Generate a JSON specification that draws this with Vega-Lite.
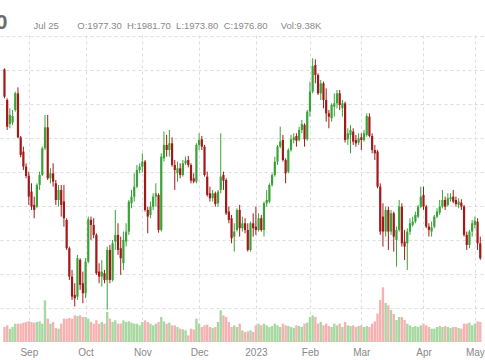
{
  "$schema": "https://vega.github.io/schema/vega-lite/v6.json",
  "width": 485,
  "height": 307,
  "autosize": {"type": "none"},
  "padding": {"left": 0, "top": 35, "right": 0, "bottom": 18},
  "background": "white",
  "config": {"view": {"stroke": null}},
  "data": {"values": [
    {"d":"2022-08-19","i":-9,"open":2001.0,"high":2002.4,"low":1958.4,"close":1960.8,"vol":180},
    {"d":"2022-08-22","i":-8,"open":1955.9,"high":1958.4,"low":1911.8,"close":1916.7,"vol":200},
    {"d":"2022-08-23","i":-7,"open":1920.6,"high":1943.7,"low":1914.3,"close":1933.9,"vol":160},
    {"d":"2022-08-24","i":-6,"open":1922.6,"high":1941.2,"low":1919.2,"close":1932.4,"vol":180},
    {"d":"2022-08-25","i":-5,"open":1941.2,"high":1968.2,"low":1938.8,"close":1965.7,"vol":220},
    {"d":"2022-08-26","i":-4,"open":1965.7,"high":1974.5,"low":1899.6,"close":1901.0,"vol":220},
    {"d":"2022-08-29","i":-3,"open":1901.0,"high":1903.0,"low":1871.6,"close":1875.1,"vol":220},
    {"d":"2022-08-30","i":-2,"open":1880.0,"high":1887.3,"low":1853.0,"close":1857.9,"vol":232},
    {"d":"2022-08-31","i":-1,"open":1857.9,"high":1862.8,"low":1840.8,"close":1844.2,"vol":240},
    {"d":"2022-09-01","i":0,"open":1844.2,"high":1850.6,"low":1801.6,"close":1813.8,"vol":248},
    {"d":"2022-09-02","i":1,"open":1821.2,"high":1833.4,"low":1794.2,"close":1799.1,"vol":240},
    {"d":"2022-09-06","i":2,"open":1801.6,"high":1813.8,"low":1782.0,"close":1794.2,"vol":232},
    {"d":"2022-09-07","i":3,"open":1799.1,"high":1833.4,"low":1796.7,"close":1831.0,"vol":240},
    {"d":"2022-09-08","i":4,"open":1831.0,"high":1850.6,"low":1823.6,"close":1845.7,"vol":248},
    {"d":"2022-09-09","i":5,"open":1845.7,"high":1887.3,"low":1844.2,"close":1884.9,"vol":220},
    {"d":"2022-09-12","i":6,"open":1884.9,"high":1933.9,"low":1882.4,"close":1915.7,"vol":500},
    {"d":"2022-09-13","i":7,"open":1915.7,"high":1933.9,"low":1838.3,"close":1840.8,"vol":280},
    {"d":"2022-09-14","i":8,"open":1840.8,"high":1855.5,"low":1833.4,"close":1848.1,"vol":220},
    {"d":"2022-09-15","i":9,"open":1848.1,"high":1862.8,"low":1828.5,"close":1835.9,"vol":240},
    {"d":"2022-09-16","i":10,"open":1833.4,"high":1838.3,"low":1801.6,"close":1808.9,"vol":168},
    {"d":"2022-09-19","i":11,"open":1808.9,"high":1831.0,"low":1799.1,"close":1823.6,"vol":160},
    {"d":"2022-09-20","i":12,"open":1823.6,"high":1831.0,"low":1784.4,"close":1801.6,"vol":220},
    {"d":"2022-09-21","i":13,"open":1806.5,"high":1831.0,"low":1769.7,"close":1782.0,"vol":280},
    {"d":"2022-09-22","i":14,"open":1779.5,"high":1782.0,"low":1735.4,"close":1737.9,"vol":280},
    {"d":"2022-09-23","i":15,"open":1737.9,"high":1740.3,"low":1691.3,"close":1696.2,"vol":288},
    {"d":"2022-09-26","i":16,"open":1696.2,"high":1706.0,"low":1661.9,"close":1666.8,"vol":280},
    {"d":"2022-09-27","i":17,"open":1669.3,"high":1686.4,"low":1652.1,"close":1664.4,"vol":320},
    {"d":"2022-09-28","i":18,"open":1666.8,"high":1728.1,"low":1661.9,"close":1723.2,"vol":312},
    {"d":"2022-09-29","i":19,"open":1720.7,"high":1723.2,"low":1676.6,"close":1684.0,"vol":320},
    {"d":"2022-09-30","i":20,"open":1686.4,"high":1703.6,"low":1657.0,"close":1671.7,"vol":300},
    {"d":"2022-10-03","i":21,"open":1671.7,"high":1723.2,"low":1664.4,"close":1718.3,"vol":300},
    {"d":"2022-10-04","i":22,"open":1718.3,"high":1784.4,"low":1715.8,"close":1780.5,"vol":280},
    {"d":"2022-10-05","i":23,"open":1779.5,"high":1784.4,"low":1750.1,"close":1772.2,"vol":240},
    {"d":"2022-10-06","i":24,"open":1772.2,"high":1782.0,"low":1752.6,"close":1757.5,"vol":220},
    {"d":"2022-10-07","i":25,"open":1757.5,"high":1759.9,"low":1698.7,"close":1701.1,"vol":260},
    {"d":"2022-10-10","i":26,"open":1703.6,"high":1715.8,"low":1686.4,"close":1696.2,"vol":220},
    {"d":"2022-10-11","i":27,"open":1696.2,"high":1720.7,"low":1681.5,"close":1703.6,"vol":240},
    {"d":"2022-10-12","i":28,"open":1701.1,"high":1706.0,"low":1686.4,"close":1691.3,"vol":220},
    {"d":"2022-10-13","i":29,"open":1691.3,"high":1740.3,"low":1647.2,"close":1735.4,"vol":360},
    {"d":"2022-10-14","i":30,"open":1735.4,"high":1742.8,"low":1686.4,"close":1691.3,"vol":280},
    {"d":"2022-10-17","i":31,"open":1691.3,"high":1750.1,"low":1688.9,"close":1745.2,"vol":240},
    {"d":"2022-10-18","i":32,"open":1747.7,"high":1794.2,"low":1735.4,"close":1757.5,"vol":260},
    {"d":"2022-10-19","i":33,"open":1757.5,"high":1774.6,"low":1728.1,"close":1735.4,"vol":220},
    {"d":"2022-10-20","i":34,"open":1737.9,"high":1755.0,"low":1698.7,"close":1723.2,"vol":220},
    {"d":"2022-10-21","i":35,"open":1715.8,"high":1762.4,"low":1706.0,"close":1750.1,"vol":260},
    {"d":"2022-10-24","i":36,"open":1747.7,"high":1774.6,"low":1740.3,"close":1762.4,"vol":240},
    {"d":"2022-10-25","i":37,"open":1762.4,"high":1808.9,"low":1757.5,"close":1806.5,"vol":248},
    {"d":"2022-10-26","i":38,"open":1804.0,"high":1823.6,"low":1796.7,"close":1813.8,"vol":232},
    {"d":"2022-10-27","i":39,"open":1813.8,"high":1848.1,"low":1806.5,"close":1828.5,"vol":220},
    {"d":"2022-10-28","i":40,"open":1828.5,"high":1860.4,"low":1826.1,"close":1853.0,"vol":220},
    {"d":"2022-10-31","i":41,"open":1853.0,"high":1862.8,"low":1848.1,"close":1857.9,"vol":200},
    {"d":"2022-11-01","i":42,"open":1857.9,"high":1877.5,"low":1849.1,"close":1865.3,"vol":240},
    {"d":"2022-11-02","i":43,"open":1865.3,"high":1867.7,"low":1791.8,"close":1794.2,"vol":260},
    {"d":"2022-11-03","i":44,"open":1794.2,"high":1799.1,"low":1759.9,"close":1784.4,"vol":240},
    {"d":"2022-11-04","i":45,"open":1786.9,"high":1806.5,"low":1782.0,"close":1799.1,"vol":220},
    {"d":"2022-11-07","i":46,"open":1799.1,"high":1818.7,"low":1794.2,"close":1813.8,"vol":200},
    {"d":"2022-11-08","i":47,"open":1813.8,"high":1833.4,"low":1799.1,"close":1818.7,"vol":220},
    {"d":"2022-11-09","i":48,"open":1816.3,"high":1818.7,"low":1760.9,"close":1764.8,"vol":240},
    {"d":"2022-11-10","i":49,"open":1764.8,"high":1877.5,"low":1762.4,"close":1872.6,"vol":300},
    {"d":"2022-11-11","i":50,"open":1870.2,"high":1909.4,"low":1865.3,"close":1889.8,"vol":248},
    {"d":"2022-11-14","i":51,"open":1889.8,"high":1904.5,"low":1872.6,"close":1882.4,"vol":220},
    {"d":"2022-11-15","i":52,"open":1882.4,"high":1911.8,"low":1872.6,"close":1892.2,"vol":232},
    {"d":"2022-11-16","i":53,"open":1892.2,"high":1901.0,"low":1857.9,"close":1860.4,"vol":200},
    {"d":"2022-11-17","i":54,"open":1860.4,"high":1867.7,"low":1823.6,"close":1853.0,"vol":200},
    {"d":"2022-11-18","i":55,"open":1848.1,"high":1865.3,"low":1835.9,"close":1855.5,"vol":180},
    {"d":"2022-11-21","i":56,"open":1855.5,"high":1862.8,"low":1840.8,"close":1845.7,"vol":160},
    {"d":"2022-11-22","i":57,"open":1845.7,"high":1867.7,"low":1843.2,"close":1862.8,"vol":152},
    {"d":"2022-11-23","i":58,"open":1862.8,"high":1872.6,"low":1860.4,"close":1866.7,"vol":140},
    {"d":"2022-11-25","i":59,"open":1867.7,"high":1873.6,"low":1856.9,"close":1860.4,"vol":80},
    {"d":"2022-11-28","i":60,"open":1860.4,"high":1862.8,"low":1833.4,"close":1837.3,"vol":160},
    {"d":"2022-11-29","i":61,"open":1840.8,"high":1848.1,"low":1833.4,"close":1835.9,"vol":152},
    {"d":"2022-11-30","i":62,"open":1835.9,"high":1892.2,"low":1833.4,"close":1889.8,"vol":280},
    {"d":"2022-12-01","i":63,"open":1889.8,"high":1906.9,"low":1882.4,"close":1897.1,"vol":220},
    {"d":"2022-12-02","i":64,"open":1898.1,"high":1903.0,"low":1882.4,"close":1887.3,"vol":180},
    {"d":"2022-12-05","i":65,"open":1887.3,"high":1889.8,"low":1843.2,"close":1845.7,"vol":200},
    {"d":"2022-12-06","i":66,"open":1843.2,"high":1850.6,"low":1813.8,"close":1816.3,"vol":208},
    {"d":"2022-12-07","i":67,"open":1818.7,"high":1828.5,"low":1806.5,"close":1811.4,"vol":180},
    {"d":"2022-12-08","i":68,"open":1811.4,"high":1823.6,"low":1806.5,"close":1818.7,"vol":168},
    {"d":"2022-12-09","i":69,"open":1818.7,"high":1821.2,"low":1799.1,"close":1803.0,"vol":180},
    {"d":"2022-12-12","i":70,"open":1804.0,"high":1823.6,"low":1799.1,"close":1821.2,"vol":240},
    {"d":"2022-12-13","i":71,"open":1823.6,"high":1906.9,"low":1818.7,"close":1843.2,"vol":380},
    {"d":"2022-12-14","i":72,"open":1845.7,"high":1850.6,"low":1823.6,"close":1837.3,"vol":320},
    {"d":"2022-12-15","i":73,"open":1838.3,"high":1840.8,"low":1786.9,"close":1789.3,"vol":300},
    {"d":"2022-12-16","i":74,"open":1791.8,"high":1799.1,"low":1774.6,"close":1779.5,"vol":240},
    {"d":"2022-12-19","i":75,"open":1782.0,"high":1786.9,"low":1745.2,"close":1752.6,"vol":180},
    {"d":"2022-12-20","i":76,"open":1755.0,"high":1774.6,"low":1733.0,"close":1762.4,"vol":200},
    {"d":"2022-12-21","i":77,"open":1764.8,"high":1796.7,"low":1762.4,"close":1794.2,"vol":180},
    {"d":"2022-12-22","i":78,"open":1794.2,"high":1801.6,"low":1755.0,"close":1767.3,"vol":220},
    {"d":"2022-12-23","i":79,"open":1767.3,"high":1784.4,"low":1762.4,"close":1774.6,"vol":140},
    {"d":"2022-12-27","i":80,"open":1774.6,"high":1782.0,"low":1759.9,"close":1764.8,"vol":120},
    {"d":"2022-12-28","i":81,"open":1764.8,"high":1774.6,"low":1733.0,"close":1735.4,"vol":128},
    {"d":"2022-12-29","i":82,"open":1735.4,"high":1777.1,"low":1733.0,"close":1774.6,"vol":140},
    {"d":"2022-12-30","i":83,"open":1774.6,"high":1789.3,"low":1755.0,"close":1767.3,"vol":120},
    {"d":"2023-01-03","i":84,"open":1769.7,"high":1799.1,"low":1757.5,"close":1764.8,"vol":200},
    {"d":"2023-01-04","i":85,"open":1764.8,"high":1789.3,"low":1762.4,"close":1782.0,"vol":220},
    {"d":"2023-01-05","i":86,"open":1782.0,"high":1786.9,"low":1762.4,"close":1764.8,"vol":200},
    {"d":"2023-01-06","i":87,"open":1764.8,"high":1806.5,"low":1755.0,"close":1804.0,"vol":220},
    {"d":"2023-01-09","i":88,"open":1804.0,"high":1823.6,"low":1799.1,"close":1808.9,"vol":200},
    {"d":"2023-01-10","i":89,"open":1806.5,"high":1833.4,"low":1804.0,"close":1831.0,"vol":180},
    {"d":"2023-01-11","i":90,"open":1831.0,"high":1848.1,"low":1828.5,"close":1845.7,"vol":192},
    {"d":"2023-01-12","i":91,"open":1845.7,"high":1872.6,"low":1843.2,"close":1865.3,"vol":220},
    {"d":"2023-01-13","i":92,"open":1865.3,"high":1889.8,"low":1860.4,"close":1887.3,"vol":200},
    {"d":"2023-01-17","i":93,"open":1887.3,"high":1916.7,"low":1884.9,"close":1894.7,"vol":180},
    {"d":"2023-01-18","i":94,"open":1897.1,"high":1904.5,"low":1865.3,"close":1867.7,"vol":220},
    {"d":"2023-01-19","i":95,"open":1867.7,"high":1870.2,"low":1833.4,"close":1848.1,"vol":200},
    {"d":"2023-01-20","i":96,"open":1850.6,"high":1884.9,"low":1848.1,"close":1882.4,"vol":192},
    {"d":"2023-01-23","i":97,"open":1882.4,"high":1904.5,"low":1880.0,"close":1898.1,"vol":180},
    {"d":"2023-01-24","i":98,"open":1897.1,"high":1906.9,"low":1892.2,"close":1901.0,"vol":168},
    {"d":"2023-01-25","i":99,"open":1903.0,"high":1906.9,"low":1887.3,"close":1896.1,"vol":200},
    {"d":"2023-01-26","i":100,"open":1897.1,"high":1916.7,"low":1894.7,"close":1911.8,"vol":192},
    {"d":"2023-01-27","i":101,"open":1911.8,"high":1926.5,"low":1906.9,"close":1920.6,"vol":180},
    {"d":"2023-01-30","i":102,"open":1919.2,"high":1921.6,"low":1887.3,"close":1898.1,"vol":220},
    {"d":"2023-01-31","i":103,"open":1898.1,"high":1941.2,"low":1896.1,"close":1938.8,"vol":232},
    {"d":"2023-02-01","i":104,"open":1938.8,"high":1982.9,"low":1931.4,"close":1968.2,"vol":300},
    {"d":"2023-02-02","i":105,"open":1968.2,"high":2017.2,"low":1965.7,"close":2005.9,"vol":320},
    {"d":"2023-02-03","i":106,"open":2007.4,"high":2015.7,"low":1980.4,"close":1992.7,"vol":300},
    {"d":"2023-02-06","i":107,"open":1992.7,"high":1995.1,"low":1963.3,"close":1965.7,"vol":220},
    {"d":"2023-02-07","i":108,"open":1965.7,"high":1985.3,"low":1955.9,"close":1980.4,"vol":240},
    {"d":"2023-02-08","i":109,"open":1980.4,"high":1982.9,"low":1943.7,"close":1955.9,"vol":200},
    {"d":"2023-02-09","i":110,"open":1955.9,"high":1973.1,"low":1924.1,"close":1936.3,"vol":220},
    {"d":"2023-02-10","i":111,"open":1936.3,"high":1941.2,"low":1914.3,"close":1931.4,"vol":192},
    {"d":"2023-02-13","i":112,"open":1929.0,"high":1951.0,"low":1924.1,"close":1948.6,"vol":180},
    {"d":"2023-02-14","i":113,"open":1946.1,"high":1965.7,"low":1931.4,"close":1951.0,"vol":220},
    {"d":"2023-02-15","i":114,"open":1951.0,"high":1970.6,"low":1943.7,"close":1965.7,"vol":200},
    {"d":"2023-02-16","i":115,"open":1965.7,"high":1970.6,"low":1941.2,"close":1948.6,"vol":220},
    {"d":"2023-02-17","i":116,"open":1943.7,"high":1955.9,"low":1931.4,"close":1951.0,"vol":180},
    {"d":"2023-02-21","i":117,"open":1951.0,"high":1953.5,"low":1893.2,"close":1897.1,"vol":240},
    {"d":"2023-02-22","i":118,"open":1898.1,"high":1914.3,"low":1889.8,"close":1906.9,"vol":200},
    {"d":"2023-02-23","i":119,"open":1904.5,"high":1919.2,"low":1877.5,"close":1911.8,"vol":192},
    {"d":"2023-02-24","i":120,"open":1909.4,"high":1914.3,"low":1889.8,"close":1894.7,"vol":200},
    {"d":"2023-02-27","i":121,"open":1897.1,"high":1904.5,"low":1887.3,"close":1892.2,"vol":180},
    {"d":"2023-02-28","i":122,"open":1893.2,"high":1906.9,"low":1889.8,"close":1899.6,"vol":192},
    {"d":"2023-03-01","i":123,"open":1901.0,"high":1906.9,"low":1882.4,"close":1897.1,"vol":200},
    {"d":"2023-03-02","i":124,"open":1897.1,"high":1911.8,"low":1894.7,"close":1906.9,"vol":180},
    {"d":"2023-03-03","i":125,"open":1904.5,"high":1936.3,"low":1902.0,"close":1932.4,"vol":192},
    {"d":"2023-03-06","i":126,"open":1931.4,"high":1936.3,"low":1901.0,"close":1903.0,"vol":180},
    {"d":"2023-03-07","i":127,"open":1903.0,"high":1906.9,"low":1877.5,"close":1882.4,"vol":220},
    {"d":"2023-03-08","i":128,"open":1882.4,"high":1889.8,"low":1867.7,"close":1877.5,"vol":248},
    {"d":"2023-03-09","i":129,"open":1880.0,"high":1882.4,"low":1826.1,"close":1828.5,"vol":340},
    {"d":"2023-03-10","i":130,"open":1828.5,"high":1833.4,"low":1757.5,"close":1762.4,"vol":504},
    {"d":"2023-03-13","i":131,"open":1784.4,"high":1804.0,"low":1740.3,"close":1762.4,"vol":656},
    {"d":"2023-03-14","i":132,"open":1762.4,"high":1799.1,"low":1755.0,"close":1794.2,"vol":468},
    {"d":"2023-03-15","i":133,"open":1794.2,"high":1799.1,"low":1735.4,"close":1762.4,"vol":440},
    {"d":"2023-03-16","i":134,"open":1762.4,"high":1794.2,"low":1757.5,"close":1789.3,"vol":384},
    {"d":"2023-03-17","i":135,"open":1789.3,"high":1791.8,"low":1733.0,"close":1755.0,"vol":336},
    {"d":"2023-03-20","i":136,"open":1750.1,"high":1769.7,"low":1710.9,"close":1764.8,"vol":264},
    {"d":"2023-03-21","i":137,"open":1764.8,"high":1808.9,"low":1762.4,"close":1799.1,"vol":300},
    {"d":"2023-03-22","i":138,"open":1799.1,"high":1804.0,"low":1740.3,"close":1745.2,"vol":300},
    {"d":"2023-03-23","i":139,"open":1747.7,"high":1764.8,"low":1720.7,"close":1740.3,"vol":264},
    {"d":"2023-03-24","i":140,"open":1745.2,"high":1767.3,"low":1706.0,"close":1762.4,"vol":220},
    {"d":"2023-03-27","i":141,"open":1762.4,"high":1782.0,"low":1757.5,"close":1774.6,"vol":200},
    {"d":"2023-03-28","i":142,"open":1772.2,"high":1784.4,"low":1769.7,"close":1777.1,"vol":180},
    {"d":"2023-03-29","i":143,"open":1777.1,"high":1791.8,"low":1774.6,"close":1786.9,"vol":192},
    {"d":"2023-03-30","i":144,"open":1784.4,"high":1801.6,"low":1782.0,"close":1799.1,"vol":180},
    {"d":"2023-03-31","i":145,"open":1799.1,"high":1828.5,"low":1796.7,"close":1813.8,"vol":200},
    {"d":"2023-04-03","i":146,"open":1816.3,"high":1828.5,"low":1794.2,"close":1799.1,"vol":220},
    {"d":"2023-04-04","i":147,"open":1799.1,"high":1801.6,"low":1767.3,"close":1769.7,"vol":200},
    {"d":"2023-04-05","i":148,"open":1769.7,"high":1774.6,"low":1755.0,"close":1764.8,"vol":180},
    {"d":"2023-04-06","i":149,"open":1762.4,"high":1777.1,"low":1755.0,"close":1768.7,"vol":160},
    {"d":"2023-04-10","i":150,"open":1769.7,"high":1786.9,"low":1767.3,"close":1784.4,"vol":160},
    {"d":"2023-04-11","i":151,"open":1784.4,"high":1796.7,"low":1782.0,"close":1791.8,"vol":180},
    {"d":"2023-04-12","i":152,"open":1790.3,"high":1808.9,"low":1786.9,"close":1799.1,"vol":192},
    {"d":"2023-04-13","i":153,"open":1799.1,"high":1823.6,"low":1796.7,"close":1808.9,"vol":180},
    {"d":"2023-04-14","i":154,"open":1808.9,"high":1813.8,"low":1794.2,"close":1799.1,"vol":192},
    {"d":"2023-04-17","i":155,"open":1801.6,"high":1818.7,"low":1799.1,"close":1811.4,"vol":180},
    {"d":"2023-04-18","i":156,"open":1809.9,"high":1818.7,"low":1806.5,"close":1812.8,"vol":168},
    {"d":"2023-04-19","i":157,"open":1813.8,"high":1823.6,"low":1804.0,"close":1806.5,"vol":180},
    {"d":"2023-04-20","i":158,"open":1808.9,"high":1813.8,"low":1799.1,"close":1803.0,"vol":180},
    {"d":"2023-04-21","i":159,"open":1801.6,"high":1811.4,"low":1796.7,"close":1806.5,"vol":168},
    {"d":"2023-04-24","i":160,"open":1805.0,"high":1809.9,"low":1794.2,"close":1799.1,"vol":160},
    {"d":"2023-04-25","i":161,"open":1799.1,"high":1801.6,"low":1755.0,"close":1757.5,"vol":220},
    {"d":"2023-04-26","i":162,"open":1757.5,"high":1762.4,"low":1735.4,"close":1742.8,"vol":220},
    {"d":"2023-04-27","i":163,"open":1742.8,"high":1764.8,"low":1737.9,"close":1762.4,"vol":232},
    {"d":"2023-04-28","i":164,"open":1762.4,"high":1779.5,"low":1755.0,"close":1774.6,"vol":200},
    {"d":"2023-05-01","i":165,"open":1772.2,"high":1784.4,"low":1767.3,"close":1778.5,"vol":220},
    {"d":"2023-05-02","i":166,"open":1777.1,"high":1782.0,"low":1735.4,"close":1745.2,"vol":248},
    {"d":"2023-05-03","i":167,"open":1745.2,"high":1755.0,"low":1720.7,"close":1723.2,"vol":240}
  ]},
  "encoding": {
    "x": {
      "field": "i", "type": "quantitative",
      "scale": {"domain": [-8.8, 166.9], "nice": false, "zero": false},
      "axis": {
        "title": null,
        "values": [0, 21, 42, 63, 84, 104, 123, 146, 165],
        "tickCount": 30,
        "labelExpr": "datum.value == 0 ? 'Sep' : datum.value == 21 ? 'Oct' : datum.value == 42 ? 'Nov' : datum.value == 63 ? 'Dec' : datum.value == 84 ? '2023' : datum.value == 104 ? 'Feb' : datum.value == 123 ? 'Mar' : datum.value == 146 ? 'Apr' : 'May'",
        "labelFlush": false,
        "labelOverlap": false,
        "labelFont": "Liberation Sans",
        "labelFontSize": 10,
        "labelColor": "#888888",
        "labelPadding": 5,
        "ticks": false,
        "domain": false,
        "grid": true,
        "gridColor": "#dddddd",
        "gridDash": [3, 3],
        "gridWidth": 1
      }
    }
  },
  "layer": [
    {
      "mark": {"type": "bar", "width": 2.4, "clip": true},
      "encoding": {
        "y": {
          "field": "vol", "type": "quantitative",
          "scale": {"domain": [0, 3684], "nice": false},
          "axis": {
            "orient": "right",
            "labels": false, "ticks": false, "domain": false, "grid": false,
            "title": "0",
            "titleAngle": 0,
            "titleAlign": "right",
            "titleBaseline": "alphabetic",
            "titleX": -478,
            "titleY": -7,
            "titleFont": "Liberation Sans",
            "titleFontSize": 21,
            "titleFontWeight": "bold",
            "titleColor": "#6b6b6b"
          }
        },
        "color": {"condition": {"test": "datum.close >= datum.open", "value": "#a8d8a2"}, "value": "#f5b2b2"}
      }
    },
    {
      "layer": [
        {
          "mark": {"type": "rule", "strokeWidth": 1, "clip": true},
          "encoding": {
            "y": {
              "field": "low", "type": "quantitative",
              "scale": {"domain": [1600, 2051.5], "nice": false, "zero": false},
              "axis": {
                "orient": "left",
                "values": [1650, 1700, 1750, 1800, 1850, 1900, 1950, 2000, 2050],
                "tickCount": 30,
                "labels": false, "ticks": false, "domain": false,
                "grid": true, "gridColor": "#dddddd", "gridDash": [3, 3], "gridWidth": 1,
                "title": "Jul 25\u00a0\u00a0\u00a0\u00a0\u00a0\u00a0\u00a0O:1977.30\u00a0\u00a0H:1981.70\u00a0\u00a0L:1973.80\u00a0\u00a0C:1976.80\u00a0\u00a0\u00a0\u00a0\u00a0Vol:9.38K",
                "titleAngle": 0,
                "titleAlign": "left",
                "titleBaseline": "alphabetic",
                "titleX": 33,
                "titleY": -7,
                "titleFont": "Liberation Sans",
                "titleFontSize": 9.5,
                "titleFontWeight": "normal",
                "titleColor": "#888888"
              }
            },
            "y2": {"field": "high"},
            "color": {"condition": {"test": "datum.close >= datum.open", "value": "#39a339"}, "value": "#a31919"}
          }
        },
        {
          "mark": {"type": "bar", "width": 2.2, "clip": true},
          "encoding": {
            "y": {"field": "open", "type": "quantitative", "scale": {"domain": [1600, 2051.5], "nice": false, "zero": false}},
            "y2": {"field": "close"},
            "color": {"condition": {"test": "datum.close >= datum.open", "value": "#39a339"}, "value": "#a31919"}
          }
        }
      ]
    }
  ],
  "resolve": {"scale": {"y": "independent"}}
}
